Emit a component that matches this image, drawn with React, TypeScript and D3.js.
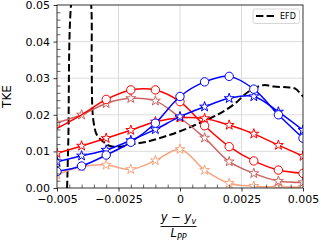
import React, { useRef, useEffect } from "react";
import * as d3 from "d3";

// sample positions (y - yv) / Lpp
const xs = [-0.005, -0.004, -0.003, -0.002, -0.001, 0, 0.001, 0.002, 0.003, 0.004, 0.005];

const redCircle = [0.0163, 0.02, 0.0242, 0.0268, 0.0268, 0.0236, 0.017, 0.0113, 0.0074, 0.0049, 0.004];
const redStar = [0.0095, 0.0115, 0.0136, 0.0158, 0.0181, 0.0192, 0.019, 0.0172, 0.0148, 0.0117, 0.0087];
const roseStar = [0.0178, 0.02, 0.0231, 0.0245, 0.0238, 0.0192, 0.0137, 0.0072, 0.004, 0.0019, 0.0015];
const salmonStar = [0.0036, 0.0058, 0.0063, 0.0051, 0.0075, 0.0106, 0.0049, 0.0013, 0.0005, 0.0003, 0.0002];
const blueCircle = [0.0045, 0.006, 0.009, 0.0125, 0.0177, 0.025, 0.029, 0.0305, 0.027, 0.02, 0.0136];
const blueStar = [0.0072, 0.0088, 0.0104, 0.013, 0.016, 0.0195, 0.0222, 0.0245, 0.025, 0.0208, 0.0158];

// experiment (EFD), one continuous curve that leaves the top of the axes
const efdX = [-0.00459, -0.00454, -0.00443, -0.0042, -0.0038, -0.00361, -0.00359, -0.00356, -0.0035, -0.00338,
  -0.00312, -0.00285, -0.00244, -0.0019, -0.00135, -0.00065, 0, 0.00105, 0.00163, 0.00224, 0.00278,
  0.00339, 0.00382, 0.00434, 0.00467, 0.00501];
const efdY = [0, 0.0131, 0.05, 0.06, 0.06, 0.05, 0.035, 0.0213, 0.0175, 0.0145,
  0.01265, 0.0115, 0.0113, 0.012, 0.01265, 0.014, 0.0155, 0.0185, 0.0204, 0.0231, 0.0263,
  0.0281, 0.0277, 0.0275, 0.0272, 0.0249];

const xTicks = [-0.005, -0.0025, 0, 0.0025, 0.005];
const xTickLabels = ["\u22120.005", "\u22120.0025", "0", "0.0025", "0.005"];
const yTicks = [0, 0.01, 0.02, 0.03, 0.04, 0.05];
const yTickLabels = ["0.00", "0.01", "0.02", "0.03", "0.04", "0.05"];

const series = [
  { values: salmonStar, color: "#f9a47e", marker: "star", noMarker: [] as number[] },
  { values: roseStar, color: "#cd6464", marker: "star", noMarker: [] as number[] },
  { values: redStar, color: "#ff0000", marker: "star", noMarker: [] as number[] },
  { values: redCircle, color: "#ff0000", marker: "circle", noMarker: [0, 1] },
  { values: blueStar, color: "#0000ff", marker: "star", noMarker: [] as number[] },
  { values: blueCircle, color: "#0000ff", marker: "circle", noMarker: [] as number[] },
];

const starPath = (r: number) => {
  const pts: string[] = [];
  const inner = r * 0.381966;
  for (let i = 0; i < 10; i++) {
    const rad = i % 2 === 0 ? r : inner;
    const a = (Math.PI / 5) * i - Math.PI / 2;
    pts.push(`${(rad * Math.cos(a)).toFixed(2)},${(rad * Math.sin(a)).toFixed(2)}`);
  }
  return "M" + pts.join("L") + "Z";
};

function App() {
  const ref = useRef<SVGSVGElement>(null);

  useEffect(() => {
    const svg = d3.select(ref.current);
    svg.selectAll("*").remove();

    const margin = { top: 5, left: 57, right: 18, bottom: 54 };
    const width = 321;
    const height = 242;
    const innerW = width - margin.left - margin.right;
    const innerH = height - margin.top - margin.bottom;

    const x = d3.scaleLinear().domain([-0.005, 0.005]).range([0, innerW]);
    const y = d3.scaleLinear().domain([0, 0.05]).range([innerH, 0]);

    const g = svg.append("g").attr("transform", `translate(${margin.left},${margin.top})`);

    g.append("clipPath").attr("id", "plotclip")
      .append("rect").attr("width", innerW).attr("height", innerH);

    // grid
    g.append("g").selectAll("line").data(xTicks.slice(1, -1)).enter().append("line")
      .attr("x1", (d) => x(d)).attr("x2", (d) => x(d)).attr("y1", 0).attr("y2", innerH)
      .attr("stroke", "#d9d9d9").attr("stroke-width", 0.9);
    g.append("g").selectAll("line").data(yTicks.slice(1, -1)).enter().append("line")
      .attr("y1", (d) => y(d)).attr("y2", (d) => y(d)).attr("x1", 0).attr("x2", innerW)
      .attr("stroke", "#d9d9d9").attr("stroke-width", 0.9);

    const plot = g.append("g").attr("clip-path", "url(#plotclip)");

    // EFD dashed
    const efdLine = d3.line<number>()
      .x((d, i) => x(efdX[i]))
      .y((d) => y(d))
      .curve(d3.curveCatmullRom.alpha(0.5));
    plot.append("path").attr("d", efdLine(efdY))
      .attr("fill", "none").attr("stroke", "black").attr("stroke-width", 2)
      .attr("stroke-dasharray", "7.4,3.2");

    const simLine = d3.line<number>()
      .x((d, i) => x(xs[i]))
      .y((d) => y(d))
      .curve(d3.curveCatmullRom.alpha(0.5));

    series.forEach((s) => {
      plot.append("path").attr("d", simLine(s.values))
        .attr("fill", "none").attr("stroke", s.color).attr("stroke-width", 1.5);
      const pts = s.values.map((v, i) => ({ v, i })).filter((p) => !s.noMarker.includes(p.i));
      const m = plot.append("g").selectAll("path").data(pts).enter();
      if (s.marker === "circle") {
        m.append("circle")
          .attr("cx", (d) => x(xs[d.i])).attr("cy", (d) => y(d.v)).attr("r", 4.2)
          .attr("fill", "white").attr("stroke", s.color).attr("stroke-width", 1);
      } else {
        m.append("path").attr("d", starPath(5.2))
          .attr("transform", (d) => `translate(${x(xs[d.i])},${y(d.v)})`)
          .attr("fill", "white").attr("stroke", s.color).attr("stroke-width", 1);
      }
    });

    // axes: major ticks outward, minor inward
    const minorX = d3.range(-0.005, 0.00501, 0.0005).filter((v) => xTicks.every((t) => Math.abs(t - v) > 1e-9));
    const minorY = d3.range(0, 0.0501, 0.002).filter((v) => yTicks.every((t) => Math.abs(t - v) > 1e-9));

    const xAxis = g.append("g").attr("transform", `translate(0,${innerH})`)
      .call(d3.axisBottom(x).tickValues(xTicks).tickSize(3.5).tickPadding(3.5)
        .tickFormat((d, i) => xTickLabels[i]));
    xAxis.select(".domain").remove();
    xAxis.selectAll("text").attr("font-size", 11).attr("font-family", "DejaVu Sans").attr("fill", "black");
    xAxis.selectAll("line").attr("stroke-width", 0.8);
    g.append("g").attr("transform", `translate(0,${innerH})`)
      .call(d3.axisTop(x).tickValues(minorX).tickSize(3.5).tickFormat(() => ""))
      .call((a) => a.select(".domain").remove())
      .selectAll("line").attr("stroke-width", 0.6);

    const yAxis = g.append("g")
      .call(d3.axisLeft(y).tickValues(yTicks).tickSize(3.5).tickPadding(3.5)
        .tickFormat((d, i) => yTickLabels[i]));
    yAxis.select(".domain").remove();
    yAxis.selectAll("text").attr("font-size", 11).attr("font-family", "DejaVu Sans").attr("fill", "black");
    yAxis.selectAll("line").attr("stroke-width", 0.8);
    g.append("g")
      .call(d3.axisRight(y).tickValues(minorY).tickSize(3.5).tickFormat(() => ""))
      .call((a) => a.select(".domain").remove())
      .selectAll("line").attr("stroke-width", 0.6);

    // frame
    g.append("rect").attr("width", innerW).attr("height", innerH)
      .attr("fill", "none").attr("stroke", "black").attr("stroke-width", 0.8);

    // legend
    const lg = g.append("g").attr("transform", `translate(${innerW - 50},4)`);
    lg.append("rect").attr("width", 46.5).attr("height", 14.5).attr("rx", 2)
      .attr("fill", "white").attr("fill-opacity", 0.8).attr("stroke", "#cccccc").attr("stroke-width", 0.8);
    lg.append("line").attr("x1", 3).attr("x2", 22).attr("y1", 7).attr("y2", 7)
      .attr("stroke", "black").attr("stroke-width", 2).attr("stroke-dasharray", "7.4,3.2");
    lg.append("text").attr("x", 27).attr("y", 10).attr("font-size", 8).attr("font-family", "DejaVu Sans")
      .text("EFD");

    // axis labels
    svg.append("text").attr("transform", `translate(11,${margin.top + innerH / 2}) rotate(-90)`)
      .attr("text-anchor", "middle").attr("font-size", 12).attr("font-family", "DejaVu Sans").text("TKE");

    const cx = margin.left + x(0) - 1.5;
    const num = svg.append("text").attr("x", cx).attr("y", 221).attr("text-anchor", "middle")
      .attr("font-size", 11.5).attr("font-family", "DejaVu Sans").attr("font-style", "italic");
    num.append("tspan").text("y \u2212 y");
    num.append("tspan").attr("dy", 2.5).attr("font-size", 8).text("v");
    svg.append("line").attr("x1", cx - 18).attr("x2", cx + 18).attr("y1", 226.5).attr("y2", 226.5)
      .attr("stroke", "black").attr("stroke-width", 0.9);
    const den = svg.append("text").attr("x", cx).attr("y", 237).attr("text-anchor", "middle")
      .attr("font-size", 11.5).attr("font-family", "DejaVu Sans").attr("font-style", "italic");
    den.append("tspan").text("L");
    den.append("tspan").attr("dy", 2.5).attr("font-size", 8).text("PP");
  }, []);

  return (
    <svg ref={ref} width={321} height={242}
      style={{ position: "absolute", left: 0, top: 0, background: "white" }} />
  );
}

export default App;
